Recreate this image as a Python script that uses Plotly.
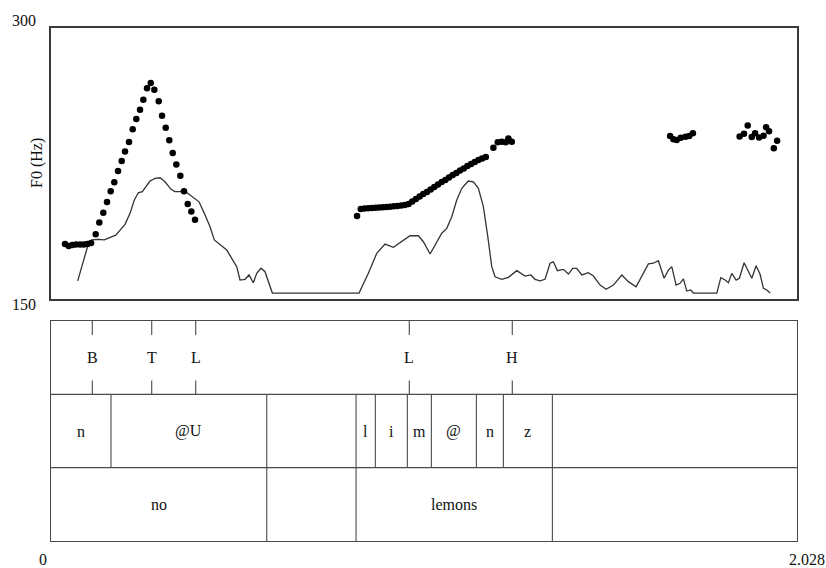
import plotly.graph_objects as go

# ---------------- data ----------------
T_END = 2.028
F0_MIN, F0_MAX = 150, 300

# F0 track (dots), seconds / Hz
f0_time = [
    0.038, 0.048, 0.058, 0.068, 0.079, 0.089, 0.099, 0.109,
    0.1215, 0.1313, 0.1422, 0.1523, 0.1623, 0.1721, 0.1822, 0.1922, 0.2012, 0.2121,
    0.2221, 0.2319, 0.2420, 0.2510, 0.2610, 0.2711, 0.2809, 0.2928, 0.3018, 0.3119,
    0.3216, 0.3309, 0.3407, 0.3516, 0.3616, 0.3717, 0.3815, 0.3915,
    0.832, 0.842, 0.852, 0.862, 0.872, 0.882, 0.892, 0.902, 0.912, 0.922, 0.932,
    0.942, 0.952, 0.962, 0.972, 0.982, 0.992, 1.002, 1.012, 1.022, 1.032, 1.042,
    1.052, 1.062, 1.072, 1.082, 1.092, 1.102, 1.112, 1.122, 1.132, 1.142, 1.152,
    1.162, 1.172, 1.182, 1.2026, 1.2145, 1.2254, 1.2363, 1.2434, 1.2526,
    1.683, 1.692, 1.701, 1.712, 1.725, 1.735, 1.745,
    1.872, 1.884, 1.894, 1.905, 1.914, 1.925, 1.937, 1.944, 1.952, 1.965, 1.974,
]
f0_hz = [
    180.4, 179.3, 179.9, 180.1, 180.1, 180.1, 180.4, 181.0,
    185.8, 192.4, 197.8, 203.7, 209.6, 214.6, 220.8, 226.4, 231.7, 236.9,
    243.9, 249.6, 254.8, 260.3, 266.6, 269.5, 265.8, 259.4, 251.4, 244.8,
    237.8, 230.8, 224.5, 218.2, 209.6, 202.6, 198.5, 193.9,
    196.0, 199.8, 200.1, 200.2, 200.4, 200.5, 200.6, 200.8, 200.9, 201.1, 201.3,
    201.5, 201.7, 202.0, 202.6, 204.0, 205.3, 206.7, 208.1, 209.2, 210.6, 212.0,
    213.4, 214.7, 215.9, 217.2, 218.6, 219.7, 221.1, 222.2, 223.6, 224.7, 225.8,
    226.9, 227.8, 228.6, 233.7, 236.7, 237.1, 236.7, 238.9, 237.1,
    240.2, 238.4, 238.0, 239.3, 239.8, 240.2, 241.7,
    239.9, 241.4, 246.0, 239.7, 241.7, 239.4, 240.4, 245.1, 242.8, 233.4, 237.6,
]

# second contour (solid line), drawn on the same scale
curve_time = [
    0.0726, 0.1014, 0.1107, 0.1286, 0.1449, 0.1631, 0.1759, 0.2012, 0.2148, 0.2265,
    0.2374, 0.2482, 0.2602, 0.2692, 0.2828, 0.2964, 0.3100, 0.3263, 0.3371, 0.3507,
    0.3624, 0.3733, 0.3896, 0.4024, 0.4168, 0.4323, 0.4440, 0.4595, 0.4777, 0.4913,
    0.5049, 0.5139, 0.5275, 0.5383, 0.5500, 0.5593, 0.5710, 0.5818, 0.5908, 0.6017,
    0.8374, 0.8627, 0.8856, 0.9081, 0.9307, 0.9535, 0.9761, 0.9987, 1.0123, 1.0305,
    1.0441, 1.0623, 1.0759, 1.0895, 1.1031, 1.1167, 1.1346, 1.1482, 1.1618, 1.1754,
    1.1874, 1.1982, 1.2072, 1.2254, 1.2434, 1.2662, 1.2888, 1.3043, 1.3160, 1.3295,
    1.3431, 1.3567, 1.3657, 1.3766, 1.3929, 1.4065, 1.4184, 1.4293, 1.4429, 1.4609,
    1.4745, 1.4927, 1.5090, 1.5289, 1.5517, 1.5696, 1.5906, 1.6061, 1.6240, 1.6376,
    1.6512, 1.6667, 1.6784, 1.6876, 1.6993, 1.7102, 1.7192, 1.7284, 1.7393, 1.7463,
    1.8100, 1.8209, 1.8326, 1.8415, 1.8508, 1.8625, 1.8714, 1.8842, 1.8932, 1.9051,
    1.9168, 1.9277, 1.9367, 1.9460, 1.9549,
]
curve_hz = [
    160.0, 180.4, 182.7, 183.0, 182.7, 184.5, 185.3, 191.3, 197.4, 204.8,
    208.8, 209.4, 213.1, 215.3, 216.8, 217.1, 214.9, 210.7, 209.4, 209.4,
    209.9, 208.1, 205.7, 203.8, 197.4, 190.0, 182.7, 179.9, 177.1, 172.5,
    167.9, 160.5, 160.9, 163.3, 159.0, 164.2, 167.0, 165.1, 159.6, 153.3,
    153.3, 164.2, 175.3, 180.4, 178.6, 181.7, 185.0, 185.0, 181.7, 174.9,
    179.9, 186.4, 189.1, 195.5, 204.8, 211.3, 215.3, 214.9, 211.3, 201.1,
    184.5, 167.9, 162.3, 160.9, 162.0, 165.7, 162.7, 163.3, 160.9, 160.1,
    160.9, 169.8, 170.6, 165.7, 166.4, 163.8, 167.0, 167.0, 163.3, 164.6,
    162.7, 157.7, 155.4, 157.7, 163.3, 159.6, 156.8, 162.3, 169.4, 169.8,
    171.2, 161.5, 166.0, 167.9, 157.7, 158.7, 161.1, 154.4, 155.0, 153.3,
    153.3, 161.8, 160.5, 159.0, 164.2, 160.5, 161.5, 170.1, 166.0, 161.5,
    168.4, 163.7, 155.9, 155.0, 153.3,
]

# TextGrid tiers
tone_time = [0.1123, 0.2738, 0.3934, 0.974, 1.254]
tone_label = ["B", "T", "L", "L", "H"]

phone_bounds = [0, 0.1631, 0.5865, 0.8293, 0.8817, 0.9687, 1.034, 1.1564, 1.2298, 1.363, T_END]
phone_label = ["n", "@U", "", "l", "i", "m", "@", "n", "z", ""]

word_bounds = [0, 0.5865, 0.8293, 1.363, T_END]
word_label = ["no", "", "lemons", ""]

# ---------------- layout helpers ----------------
W, H = 826, 568
ML, MR, MT, MB = 51, 29, 28, 27
PW, PH = W - ML - MR, H - MT - MB
FONT = "Liberation Serif, Times New Roman, serif"
FRAME = "#3a3a3a"
GRIDLINE = "#4a4a4a"


def paper(px, py):
    return (px - ML) / PW, (H - MB - py) / PH


pitch_dom = [paper(0, 299)[1], 1]
tg_dom = [0, paper(0, 321)[1]]

fig = go.Figure()
fig.add_trace(go.Scatter(
    x=curve_time, y=curve_hz, mode="lines",
    line=dict(color="#333333", width=1.3), hoverinfo="skip",
))
fig.add_trace(go.Scatter(
    x=f0_time, y=f0_hz, mode="markers",
    marker=dict(color="black", size=6.5), hoverinfo="skip",
))

shapes = []
annotations = []

# tier separators (tiers: 2-3 tones, 1-2 phones, 0-1 words)
for yv in (1, 2):
    shapes.append(dict(type="line", xref="x2", yref="y2", x0=0, x1=T_END, y0=yv, y1=yv,
                       line=dict(color=GRIDLINE, width=1.1)))

# tone tier: ticks at top and bottom, label in middle
tick = 0.19
for t, lab in zip(tone_time, tone_label):
    for y0, y1 in ((3 - tick, 3), (2, 2 + tick)):
        shapes.append(dict(type="line", xref="x2", yref="y2", x0=t, x1=t, y0=y0, y1=y1,
                           line=dict(color=GRIDLINE, width=1.1)))
    annotations.append(dict(x=t, y=2.5, xref="x2", yref="y2", text=lab, showarrow=False,
                            font=dict(family=FONT, size=16, color="#111")))


def interval_tier(bounds, labels, y_lo):
    for b in bounds[1:-1]:
        shapes.append(dict(type="line", xref="x2", yref="y2", x0=b, x1=b, y0=y_lo, y1=y_lo + 1,
                           line=dict(color=GRIDLINE, width=1.1)))
    for a, b, lab in zip(bounds[:-1], bounds[1:], labels):
        if lab:
            annotations.append(dict(x=(a + b) / 2, y=y_lo + 0.5, xref="x2", yref="y2", text=lab,
                                    showarrow=False, font=dict(family=FONT, size=16, color="#111")))


interval_tier(phone_bounds, phone_label, 1)
interval_tier(word_bounds, word_label, 0)

# frame labels
for txt, px, py, ang in [("300", 23.5, 20, 0), ("150", 23.5, 304, 0), ("F0 (Hz)", 37, 163, -90),
                         ("0", 42.5, 559, 0), ("2.028", 807, 559, 0)]:
    xp, yp = paper(px, py)
    annotations.append(dict(x=xp, y=yp, xref="paper", yref="paper", text=txt, showarrow=False,
                            textangle=ang, font=dict(family=FONT, size=16, color="#111"),
                            xanchor="center", yanchor="middle"))

ax_common = dict(showgrid=False, zeroline=False, showticklabels=False, ticks="",
                 showline=True, mirror=True, fixedrange=True)

fig.update_layout(
    width=W, height=H,
    margin=dict(l=ML, r=MR, t=MT, b=MB),
    paper_bgcolor="white", plot_bgcolor="white",
    showlegend=False,
    xaxis=dict(range=[0, T_END], anchor="y", linecolor=FRAME, linewidth=1.6, **ax_common),
    yaxis=dict(range=[F0_MIN, F0_MAX], domain=pitch_dom, anchor="x",
               linecolor=FRAME, linewidth=1.6, **ax_common),
    xaxis2=dict(range=[0, T_END], anchor="y2", matches="x", linecolor=GRIDLINE, linewidth=1.1, **ax_common),
    yaxis2=dict(range=[0, 3], domain=tg_dom, anchor="x2", linecolor=GRIDLINE, linewidth=1.1, **ax_common),
    shapes=shapes,
    annotations=annotations,
)

# page body has a default margin; drop it so the figure sits at the window origin
fig.write_html("out.html", config={"displayModeBar": False},
               post_script="document.body.style.margin='0';")
